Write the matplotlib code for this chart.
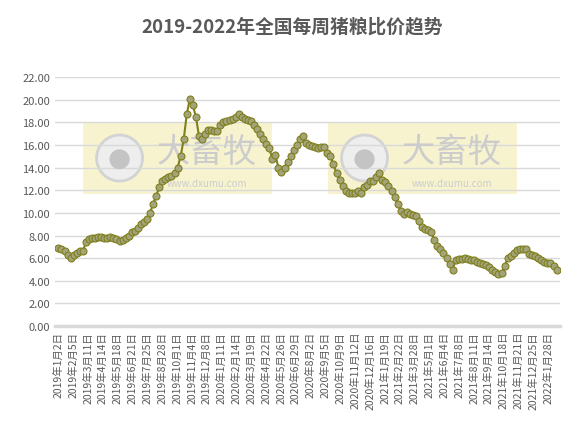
import matplotlib
matplotlib.use("Agg")
import matplotlib.pyplot as plt
import pandas as pd
from matplotlib.patches import Rectangle, Ellipse

plt.rcParams['font.family'] = ['Noto Sans CJK SC', 'DejaVu Sans']

values = [6.9,6.8,6.6,6.3,6.0,
          6.3,6.5,6.6,6.6,
          7.4,7.7,7.8,7.8,7.9,7.9,7.8,7.8,
          7.9,7.8,7.7,7.5,7.6,7.8,
          8.0,8.3,8.4,8.7,9.0,9.2,9.5,
          10.0,10.8,11.5,12.3,12.8,13.0,13.2,13.3,13.5,
          14.0,15.0,16.5,18.7,20.1,19.5,18.5,
          16.8,16.5,17.0,17.3,17.3,17.2,17.2,17.8,18.0,
          18.1,18.2,18.3,18.5,18.7,18.5,18.3,18.2,18.1,17.8,17.4,17.0,16.5,16.1,15.7,14.8,15.1,
          14.0,13.6,14.0,14.5,15.0,15.6,16.0,16.5,16.8,
          16.2,16.0,15.9,15.8,15.7,15.8,15.8,
          15.3,15.0,14.3,13.5,12.9,12.4,11.9,11.8,11.8,11.8,11.9,11.8,
          12.3,12.5,12.8,12.8,13.2,13.5,
          12.9,12.7,12.4,11.9,11.4,10.8,10.2,9.9,10.1,9.9,9.8,9.7,9.3,8.8,8.6,8.5,8.3,7.6,7.1,6.8,6.5,6.0,5.5,5.0,
          5.8,5.9,5.9,6.0,5.9,5.8,5.8,5.7,5.6,5.5,5.4,5.2,5.0,4.8,4.6,4.7,
          5.3,6.0,6.2,6.5,6.7,6.8,6.8,6.8,6.4,6.3,6.2,6.0,5.8,5.7,5.6,5.6,5.3,5.0]
dates = pd.date_range("2019-01-02", periods=len(values), freq="7D")

tick_dates = ["2019-01-02","2019-02-05","2019-03-11","2019-04-14","2019-05-18","2019-06-21","2019-07-25",
              "2019-08-28","2019-10-01","2019-11-04","2019-12-08","2020-01-11","2020-02-14","2020-03-19",
              "2020-04-22","2020-05-26","2020-06-29","2020-08-02","2020-09-05","2020-10-09","2020-11-12",
              "2020-12-16","2021-01-19","2021-02-22","2021-03-28","2021-05-01","2021-06-04","2021-07-08",
              "2021-08-11","2021-09-14","2021-10-18","2021-11-21","2021-12-25","2022-01-28"]
tick_pos = pd.to_datetime(tick_dates)
tick_labels = [f"{d.year}年{d.month}月{d.day}日" for d in tick_pos]

fig = plt.figure(figsize=(5.84, 4.27), dpi=100)
ax = fig.add_axes([0.094, 0.234, 0.865, 0.583])

for x0 in [0.055, 0.54]:
    ax.add_patch(Rectangle((x0, 0.53), 0.375, 0.29, transform=ax.transAxes,
                           facecolor='#f5f0c4', edgecolor='none', alpha=0.8, zorder=0))
    cx = x0 + 0.073
    ax.add_patch(Ellipse((cx, 0.675), 0.091, 0.185, transform=ax.transAxes,
                         facecolor='#eeeeee', edgecolor='#d3d3d3', lw=2, zorder=0.5))
    ax.add_patch(Ellipse((cx, 0.67), 0.04, 0.08, transform=ax.transAxes,
                         facecolor='#c4c4c4', edgecolor='none', zorder=0.6))
    ax.text(x0 + 0.246, 0.70, "大畜牧", transform=ax.transAxes, ha='center', va='center',
            fontsize=24, color='#cccccc', zorder=0.6)
    ax.text(x0 + 0.246, 0.575, "www.dxumu.com", transform=ax.transAxes, ha='center', va='center',
            fontsize=7, color='#cccccc', zorder=0.6)

ax.plot(dates, values, color='#7f7f1c', lw=1.5, marker='o', markersize=5,
        markerfacecolor='#a4a47a', markeredgecolor='#7f7f1c', markeredgewidth=0.8, zorder=3)

ax.set_ylim(0, 22)
ax.set_yticks(range(0, 23, 2))
ax.set_yticklabels([f"{v:.2f}" for v in range(0, 23, 2)], fontsize=8, color='#595959')
ax.yaxis.grid(True, color='#d9d9d9', lw=1)
ax.set_axisbelow(True)
ax.set_xlim(dates[0] - pd.Timedelta(days=8), dates[-1] + pd.Timedelta(days=8))
ax.set_xticks(tick_pos)
ax.set_xticklabels(tick_labels, rotation=90, fontsize=7.5, color='#595959')
ax.tick_params(length=0)
for s in ['top', 'right', 'left']:
    ax.spines[s].set_visible(False)
ax.spines['bottom'].set_color('#d9d9d9')
ax.spines['bottom'].set_linewidth(2.5)

fig.suptitle("2019-2022年全国每周猪粮比价趋势", x=0.5, y=0.96, fontsize=13.5,
             fontweight='bold', color='#595959')
fig.savefig("out.png", dpi=100)
